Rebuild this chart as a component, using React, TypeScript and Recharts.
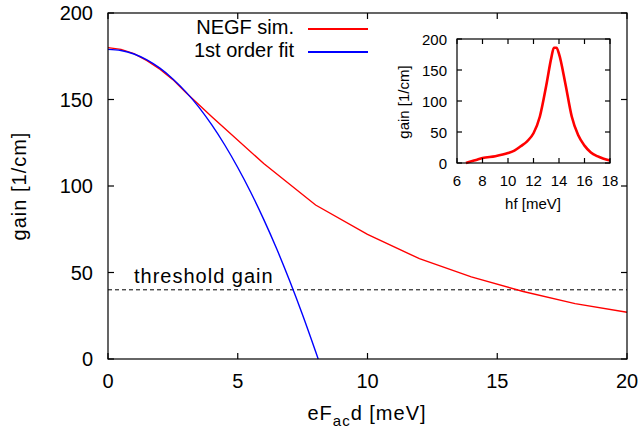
import { LineChart, Line, XAxis, YAxis, ReferenceLine } from "recharts";

const FONT = '"Liberation Sans", Arial, Helvetica, sans-serif';
const RED = "#ff0000";
const BLUE = "#0000ff";
const INK = "#000";

// main panel: gain vs. eF_ac d
const negfField = [0, 0.5, 1, 1.5, 2, 2.5, 3, 4, 6, 8, 10, 12, 14, 16, 18, 20];
const negfGain = [180, 179, 176.5, 172.5, 167.5, 161.5, 154, 140, 113, 89, 72, 58, 47.5, 39, 32, 27];

const fitField = [0, 0.5, 1, 1.5, 2, 2.5, 3, 3.5, 4, 4.5, 5, 5.5, 6, 6.5, 7, 7.5, 8, 8.1];
const fitGain = [179, 178.3, 176.3, 172.9, 168.1, 161.9, 154.4, 145.6, 135.3, 123.7, 110.7, 96.4, 80.7, 63.7, 45.2, 25.4, 4.3, 0];

const thresholdGain = 40;
const mainXDomain = [0, 20];
const mainYDomain = [0, 200];
const mainXTicks = [0, 5, 10, 15, 20];
const mainYTicks = [0, 50, 100, 150, 200];

// inset: gain spectrum vs. hf
const spectrumEnergy = [6.7, 7, 7.5, 8, 9, 10, 10.5, 11, 11.5, 12, 12.5, 13, 13.4, 13.6, 13.8, 14, 14.5, 15, 15.5, 16, 16.5, 17, 17.5, 18];
const spectrumGain = [0, 2, 5, 8, 11, 16, 20, 27, 35, 48, 75, 125, 170, 186, 186, 176, 128, 75, 45, 28, 17, 11, 7, 4];

const insetXDomain = [6, 18];
const insetYDomain = [0, 200];
const insetXTicks = [6, 8, 10, 12, 14, 16, 18];
const insetYTicks = [0, 50, 100, 150, 200];

const negfData = negfField.map((x, i) => ({ x, y: negfGain[i] }));
const fitData = fitField.map((x, i) => ({ x, y: fitGain[i] }));
const spectrumData = spectrumEnergy.map((x, i) => ({ x, y: spectrumGain[i] }));

const LEGEND_ITEMS = [
  { label: "NEGF sim.", color: RED },
  { label: "1st order fit", color: BLUE },
];

// chart layouts (the plot boxes follow from these)
const MAIN = { left: 0, top: 0, width: 642, height: 429, margin: { top: 13, right: 15, bottom: 0, left: 0 }, yAxisW: 108, xAxisH: 70 };
const INSET = { left: 400, top: 0, width: 230, height: 220, margin: { top: 39, right: 20, bottom: 0, left: 0 }, yAxisW: 57, xAxisH: 57 };

function plotBox(c: typeof MAIN) {
  const x = c.left + c.margin.left + c.yAxisW;
  const y = c.top + c.margin.top;
  const w = c.width - c.margin.left - c.margin.right - c.yAxisW;
  const h = c.height - c.margin.top - c.margin.bottom - c.xAxisH;
  return { x, y, w, h };
}

function makeLabel(side: "bottom" | "left", gap: number, fontSize: number) {
  return (props: any) => {
    const { x, y, payload } = props;
    return side === "bottom" ? (
      <text x={x} y={y + gap} textAnchor="middle" dominantBaseline="central" fontFamily={FONT} fontSize={fontSize} fill={INK}>
        {payload.value}
      </text>
    ) : (
      <text x={x - gap} y={y} textAnchor="end" dominantBaseline="central" fontFamily={FONT} fontSize={fontSize} fill={INK}>
        {payload.value}
      </text>
    );
  };
}

// gnuplot-style border with inward tick marks on all four sides
function Border({ c, xDomain, yDomain, xTicks, yTicks, len }: any) {
  const b = plotBox(c);
  const sx = (v: number) => b.x + ((v - xDomain[0]) / (xDomain[1] - xDomain[0])) * b.w;
  const sy = (v: number) => b.y + b.h - ((v - yDomain[0]) / (yDomain[1] - yDomain[0])) * b.h;
  return (
    <g stroke={INK} strokeWidth={1.2} fill="none">
      <rect x={b.x} y={b.y} width={b.w} height={b.h} />
      {xTicks.map((t: number) => (
        <g key={`x${t}`}>
          <line x1={sx(t)} x2={sx(t)} y1={b.y + b.h} y2={b.y + b.h - len} />
          <line x1={sx(t)} x2={sx(t)} y1={b.y} y2={b.y + len} />
        </g>
      ))}
      {yTicks.map((t: number) => (
        <g key={`y${t}`}>
          <line x1={b.x} x2={b.x + len} y1={sy(t)} y2={sy(t)} />
          <line x1={b.x + b.w} x2={b.x + b.w - len} y1={sy(t)} y2={sy(t)} />
        </g>
      ))}
    </g>
  );
}

export default function App() {
  return (
    <div style={{ position: "absolute", left: 0, top: 0, width: 642, height: 429, background: "#fff", fontFamily: FONT }}>
      <LineChart width={MAIN.width} height={MAIN.height} margin={MAIN.margin}>
        <XAxis
          type="number"
          dataKey="x"
          domain={mainXDomain}
          ticks={mainXTicks}
          height={MAIN.xAxisH}
          tickSize={0}
          tickMargin={0}
          axisLine={false}
          tickLine={false}
          tick={makeLabel("bottom", 22, 20)}
        />
        <YAxis
          type="number"
          domain={mainYDomain}
          ticks={mainYTicks}
          width={MAIN.yAxisW}
          tickSize={0}
          tickMargin={0}
          axisLine={false}
          tickLine={false}
          tick={makeLabel("left", 15, 20)}
        />
        <ReferenceLine
          y={thresholdGain}
          stroke={INK}
          strokeWidth={1}
          strokeDasharray="4 3"
          label={(props: any) => (
            <text x={props.viewBox.x + 26} y={props.viewBox.y - 7} fontFamily={FONT} fontSize={20} letterSpacing={1} fill={INK}>
              threshold gain
            </text>
          )}
        />
        <Line data={negfData} dataKey="y" type="linear" stroke={RED} strokeWidth={1.4} dot={false} isAnimationActive={false} />
        <Line data={fitData} dataKey="y" type="monotone" stroke={BLUE} strokeWidth={1.4} dot={false} isAnimationActive={false} />
      </LineChart>

      {/* legend */}
      <div style={{ position: "absolute", left: 134, top: 16, fontSize: 20, color: INK }}>
        {LEGEND_ITEMS.map((item) => (
          <div key={item.label} style={{ position: "relative", height: 23 }}>
            <span style={{ display: "inline-block", width: 160, textAlign: "right", lineHeight: "23px" }}>{item.label}</span>
            <span style={{ position: "absolute", left: 174, top: 12, width: 60, height: 2, background: item.color }} />
          </div>
        ))}
      </div>

      <div
        style={{
          position: "absolute",
          left: 19,
          top: 186,
          transform: "translate(-50%, -50%) rotate(-90deg)",
          fontSize: 20,
          lineHeight: 1,
          letterSpacing: 1,
          whiteSpace: "nowrap",
        }}
      >
        gain [1/cm]
      </div>
      <div
        style={{
          position: "absolute",
          left: 367,
          top: 413,
          transform: "translate(-50%, -50%)",
          fontSize: 20,
          lineHeight: 1,
          letterSpacing: 1,
          whiteSpace: "nowrap",
        }}
      >
        eF<sub style={{ fontSize: 15, verticalAlign: "-6px", lineHeight: 0 }}>ac</sub>d [meV]
      </div>

      <div style={{ position: "absolute", left: INSET.left, top: INSET.top }}>
        <LineChart width={INSET.width} height={INSET.height} margin={INSET.margin}>
          <XAxis
            type="number"
            dataKey="x"
            domain={insetXDomain}
            ticks={insetXTicks}
            height={INSET.xAxisH}
            tickSize={0}
            tickMargin={0}
            axisLine={false}
            tickLine={false}
            tick={makeLabel("bottom", 17, 15)}
            interval={0}
          />
          <YAxis
            type="number"
            domain={insetYDomain}
            ticks={insetYTicks}
            width={INSET.yAxisW}
            tickSize={0}
            tickMargin={0}
            axisLine={false}
            tickLine={false}
            tick={makeLabel("left", 10, 15)}
            interval={0}
          />
          <Line data={spectrumData} dataKey="y" type="monotone" stroke={RED} strokeWidth={2.6} dot={false} isAnimationActive={false} />
        </LineChart>
        <div
          style={{
            position: "absolute",
            left: 3,
            top: 102,
            transform: "translate(-50%, -50%) rotate(-90deg)",
            fontSize: 15,
            lineHeight: 1,
            whiteSpace: "nowrap",
          }}
        >
          gain [1/cm]
        </div>
        <div
          style={{
            position: "absolute",
            left: 133,
            top: 203,
            transform: "translate(-50%, -50%)",
            fontSize: 15,
            lineHeight: 1,
            whiteSpace: "nowrap",
          }}
        >
          hf [meV]
        </div>
      </div>

      {/* plot borders and tick marks for both panels */}
      <svg width={642} height={429} style={{ position: "absolute", left: 0, top: 0, pointerEvents: "none" }}>
        <Border c={MAIN} xDomain={mainXDomain} yDomain={mainYDomain} xTicks={mainXTicks} yTicks={mainYTicks} len={6} />
        <Border c={INSET} xDomain={insetXDomain} yDomain={insetYDomain} xTicks={insetXTicks} yTicks={insetYTicks} len={5} />
      </svg>
    </div>
  );
}
